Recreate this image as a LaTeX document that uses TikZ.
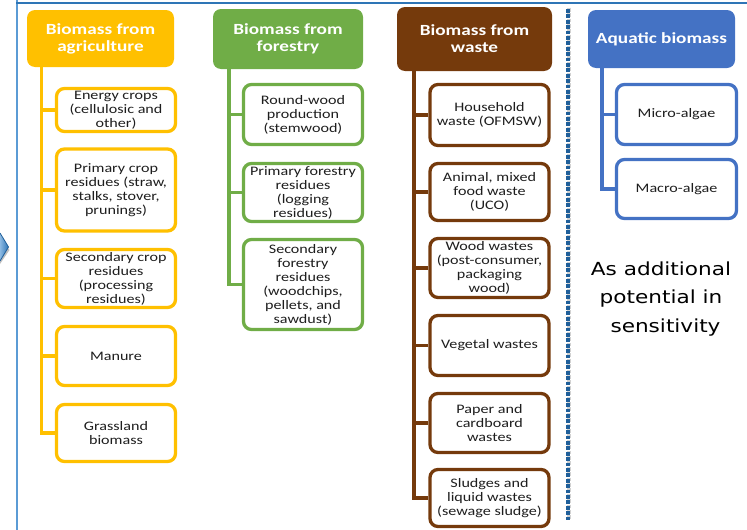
\documentclass[tikz,border=0pt]{standalone}
\usepackage{fontspec}
\setmainfont{Carlito}[FakeStretch=1.24]
\newfontfamily\notefont{DejaVu Sans}[FakeStretch=1.2]
\definecolor{agc}{HTML}{FFC000}
\definecolor{foc}{HTML}{70AD47}
\definecolor{wac}{RGB}{117,58,12}
\definecolor{aqc}{HTML}{4472C4}
\definecolor{framec}{HTML}{5B9BD5}
\definecolor{framet}{HTML}{2E75B6}
\definecolor{dotc}{HTML}{1F5F9A}
\definecolor{txt}{HTML}{1E1E1E}
\begin{document}
\begin{tikzpicture}[x=1pt,y=-1pt,
  hdr/.style={rounded corners=8pt, text=white, align=center, inner sep=2pt,
    font=\fontsize{15.5}{17}\selectfont\bfseries},
  kid/.style={draw, line width=3.3pt, rounded corners=8pt, fill=white, text=txt,
    align=center, inner sep=1pt, minimum width=119pt,
    font=\fontsize{13}{14}\selectfont},
  spine/.style={line width=3.3pt}]
\useasboundingbox (0,0) rectangle (747,530);

% outer frame
\draw[framec, line width=2.2pt] (17,0) -- (17,530);
\draw[framet, line width=1.5pt] (16,3) -- (747,3);

% arrow tip on the left edge
\fill[black!25] (0,237) -- (9.5,250) -- (0,264) -- cycle;
\shade[left color=framec!70, right color=framet, draw=dotc, line width=0.8pt]
  (0,233) -- (8.5,247) -- (0,261);

% ---- agriculture
\node[hdr, fill=agc, minimum width=147pt, minimum height=57pt] (agH) at (100.5,38.5)
  {Biomass from\\agriculture};
\node[kid, draw=agc, minimum height=43pt] (ag1) at (116,110) {Energy crops\\(cellulosic and\\other)};
\node[kid, draw=agc, minimum height=82pt] (ag2) at (116,190) {Primary crop\\residues (straw,\\stalks, stover,\\prunings)};
\node[kid, draw=agc, minimum height=58pt] (ag3) at (116,278.5) {Secondary crop\\residues\\(processing\\residues)};
\node[kid, draw=agc, minimum height=59pt] (ag4) at (116,356) {Manure};
\node[kid, draw=agc, minimum height=57pt] (ag5) at (116,433) {Grassland\\biomass};
\coordinate (agS) at (41.5,66);
\draw[spine, agc] (agS) |- (ag5.west);
\foreach \k in {ag1,ag2,ag3,ag4}
  \draw[spine, agc] (\k.west) -- (\k.west -| agS);

% ---- forestry
\node[hdr, fill=foc, minimum width=150pt, minimum height=60pt] (foH) at (288,39)
  {Biomass from\\forestry};
\node[kid, draw=foc, minimum height=60pt] (fo1) at (303,114.5) {Round-wood\\production\\(stemwood)};
\node[kid, draw=foc, minimum height=58pt] (fo2) at (303,192.5) {Primary forestry\\residues\\(logging\\residues)};
\node[kid, draw=foc, minimum height=90pt] (fo3) at (303,284.5) {Secondary\\forestry\\residues\\(woodchips,\\pellets, and\\sawdust)};
\coordinate (foS) at (229,68);
\draw[spine, foc] (foS) |- (fo3.west);
\foreach \k in {fo1,fo2}
  \draw[spine, foc] (\k.west) -- (\k.west -| foS);

% ---- waste
\node[hdr, fill=wac, minimum width=155pt, minimum height=64pt] (waH) at (474.5,39)
  {Biomass from\\waste};
\node[kid, draw=wac, minimum height=61pt] (wa1) at (489.5,115) {Household\\waste (OFMSW)};
\node[kid, draw=wac, minimum height=57pt] (wa2) at (489.5,192) {Animal, mixed\\food waste\\(UCO)};
\node[kid, draw=wac, minimum height=59pt] (wa3) at (489.5,268) {Wood wastes\\(post-consumer,\\packaging\\wood)};
\node[kid, draw=wac, minimum height=60pt] (wa4) at (489.5,345.5) {Vegetal wastes};
\node[kid, draw=wac, minimum height=59pt] (wa5) at (489.5,423) {Paper and\\cardboard\\wastes};
\node[kid, draw=wac, minimum height=57pt] (wa6) at (489.5,498) {Sludges and\\liquid wastes\\(sewage sludge)};
\coordinate (waS) at (414,70);
\draw[spine, wac] (waS) |- (wa6.west);
\foreach \k in {wa1,wa2,wa3,wa4,wa5}
  \draw[spine, wac] (\k.west) -- (\k.west -| waS);

% ---- dotted separator
\coordinate (sepT) at (568,9);
\coordinate (sepB) at (568,521);
\draw[black!18, line width=4pt, dash pattern=on 3.8pt off 1.6pt] ([xshift=1.3pt,yshift=1.3pt]sepT) -- ([xshift=1.3pt,yshift=1.3pt]sepB);
\draw[dotc, line width=4pt, dash pattern=on 3.8pt off 1.6pt] (sepT) -- (sepB);

% ---- aquatic
\node[hdr, fill=aqc, minimum width=147pt, minimum height=58pt] (aqH) at (661.5,39)
  {Aquatic biomass};
\node[kid, draw=aqc, minimum height=60pt, minimum width=120pt] (aq1) at (676.5,114.5) {Micro-algae};
\node[kid, draw=aqc, minimum height=59pt, minimum width=120pt] (aq2) at (676.5,189) {Macro-algae};
\coordinate (aqS) at (602,67);
\draw[spine, aqc] (aqS) |- (aq2.west);
\draw[spine, aqc] (aq1.west) -- (aq1.west -| aqS);

\node[align=center, text=black, font=\notefont\fontsize{18}{28.5}\selectfont, inner sep=0pt]
  (note) at (661,299) {As additional\\potential in\\\hspace*{9pt}sensitivity};
\end{tikzpicture}
\end{document}
